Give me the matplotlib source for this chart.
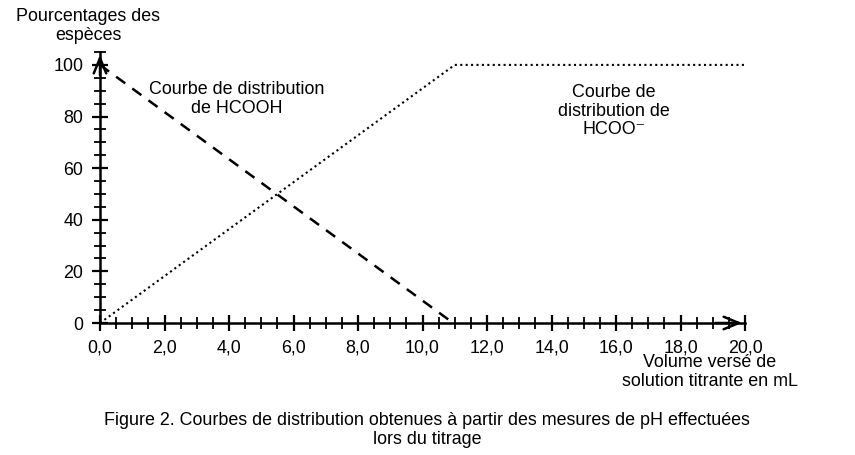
import numpy as np
import matplotlib.pyplot as plt

plt.rcParams['font.family'] = ['Liberation Sans', 'DejaVu Sans']

# acid form HCOOH (dashed) and base form HCOO- (dotted), in %
v_acid = [0.0, 10.95]
pct_acid = [100, 0]
v_base = [0.0, 11.0, 20.0]
pct_base = [0, 100, 100]

xticks = np.arange(0, 20.1, 2)
xlabels = ['0,0', '2,0', '4,0', '6,0', '8,0', '10,0', '12,0', '14,0', '16,0', '18,0', '20,0']
yticks = [0, 20, 40, 60, 80, 100]

fs = 12.9

fig = plt.figure(figsize=(8.55, 4.55), dpi=100)
ax = fig.add_axes([100/855, 132/455, 645/855, 271/455])
ax.set_xlim(0, 20)
ax.set_ylim(0, 105)

ax.plot(v_acid, pct_acid, color='black', linestyle=(0, (4.5, 3.5)), linewidth=1.8)
ax.plot(v_base, pct_base, color='black', linestyle=(0, (1, 1.6)), linewidth=1.5)

for s in ['top', 'right']:
    ax.spines[s].set_visible(False)
for s in ['left', 'bottom']:
    ax.spines[s].set_linewidth(1.8)
    ax.spines[s].set_zorder(5)

ax.set_xticks(xticks)
ax.set_xticklabels(xlabels, fontsize=fs)
ax.set_xticks(np.arange(0, 20.1, 0.5), minor=True)
ax.set_yticks(yticks)
ax.set_yticklabels([str(t) for t in yticks], fontsize=fs)
ax.set_yticks(np.arange(0, 105.1, 5), minor=True)
ax.tick_params(which='major', direction='inout', length=12, width=1.6)
ax.tick_params(which='minor', direction='inout', length=8, width=1.3)
ax.tick_params(axis='x', which='major', pad=6)
ax.tick_params(axis='y', which='major', pad=6)

# arrow heads
ax.annotate('', xy=(20.0, 0), xytext=(19.0, 0),
            arrowprops=dict(arrowstyle='->,head_length=1.1,head_width=0.45', lw=1.8, color='black'),
            annotation_clip=False)
ax.annotate('', xy=(0, 105), xytext=(0, 95),
            arrowprops=dict(arrowstyle='->,head_length=1.1,head_width=0.45', lw=1.8, color='black'),
            annotation_clip=False)

fig.text(88/855, 1 - 26/455, 'Pourcentages des\nespèces', ha='center', va='center',
         fontsize=fs, linespacing=1.1)
fig.text(237/855, 1 - 99/455, 'Courbe de distribution\nde HCOOH', ha='center', va='center',
         fontsize=fs, linespacing=1.1)
fig.text(614/855, 1 - 111/455, 'Courbe de\ndistribution de\nHCOO⁻', ha='center', va='center',
         fontsize=fs, linespacing=1.1)
fig.text(710/855, 1 - 372/455, 'Volume versé de\nsolution titrante en mL', ha='center', va='center',
         fontsize=fs, linespacing=1.1)
fig.text(427/855, 1 - 430/455,
         'Figure 2. Courbes de distribution obtenues à partir des mesures de pH effectuées\nlors du titrage',
         ha='center', va='center', fontsize=fs, linespacing=1.1)

fig.savefig('out.png', dpi=100)
